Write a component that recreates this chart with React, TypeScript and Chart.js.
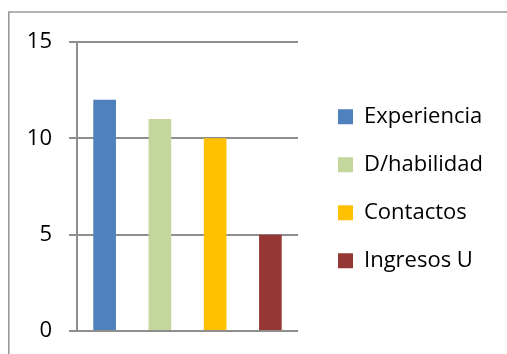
import React, { useEffect, useRef } from "react";
import { Chart, registerables } from "chart.js";

Chart.register(...registerables);

// Chart data
const categories = [""];
const seriesNames = ["Experiencia", "D/habilidad", "Contactos", "Ingresos U"];
const seriesValues = [12, 11, 10, 5];
const seriesColors = ["#4F81BD", "#C3D69B", "#FFC000", "#953735"];
const yTicks = [0, 5, 10, 15];

const WIDTH = 507;
const HEIGHT = 354;
const FONT = "'Open Sans', 'DejaVu Sans', sans-serif";
const LINE = "#8e8e8e";

// Outer frame of the chart object and placement of the legend block
const framePlugin = {
  id: "frame",
  beforeDraw(chart: any) {
    const { ctx, width, height } = chart;
    ctx.save();
    ctx.fillStyle = "#ffffff";
    ctx.fillRect(0, 0, width, height);
    ctx.strokeStyle = "#9a9a9a";
    ctx.lineWidth = 1.6;
    ctx.beginPath();
    ctx.moveTo(8.8, height);
    ctx.lineTo(8.8, 12);
    ctx.lineTo(width, 12);
    ctx.stroke();
    ctx.restore();
  },
  afterLayout(chart: any) {
    const lg = chart.legend;
    if (!lg) return;
    lg.left = 312;
    lg.right = chart.width;
    lg.width = lg.right - lg.left;
    lg.top = 73.7;
    lg.bottom = lg.top + 230;
    lg.height = 230;
  },
};

export default function App() {
  const canvasRef = useRef<HTMLCanvasElement | null>(null);

  useEffect(() => {
    const canvas = canvasRef.current;
    if (!canvas) return;
    const chart = new Chart(canvas, {
      type: "bar",
      data: {
        labels: categories,
        datasets: seriesNames.map((name, i) => ({
          label: name,
          data: [seriesValues[i]],
          backgroundColor: seriesColors[i],
          borderWidth: 0,
          categoryPercentage: 1,
          barPercentage: 0.41,
        })),
      },
      options: {
        responsive: false,
        animation: false,
        devicePixelRatio: 1,
        layout: { padding: { left: 0, top: 42, right: 59, bottom: 23 } },
        plugins: {
          tooltip: { enabled: false },
          legend: {
            position: "right",
            maxWidth: 150,
            labels: {
              boxWidth: 15,
              boxHeight: 15,
              padding: 26,
              color: "#000000",
              font: { family: FONT, size: 22 },
            },
          },
        },
        scales: {
          x: { display: false },
          y: {
            min: 0,
            max: 15,
            afterFit: (scale: any) => {
              scale.width = 77;
              scale.paddingTop = 0;
              scale.paddingBottom = 0;
            },
            afterBuildTicks: (scale: any) => {
              scale.ticks = yTicks.map((v) => ({ value: v }));
            },
            ticks: {
              color: "#000000",
              padding: 17,
              font: { family: FONT, size: 22 },
            },
            grid: {
              color: LINE,
              lineWidth: 2,
              tickLength: 8,
              drawTicks: true,
            },
            border: { display: true, color: LINE, width: 2 },
          },
        },
      },
      plugins: [framePlugin],
    });
    return () => chart.destroy();
  }, []);

  return (
    <div style={{ position: "fixed", left: 0, top: 0, width: WIDTH, height: HEIGHT }}>
      <canvas ref={canvasRef} width={WIDTH} height={HEIGHT} style={{ display: "block" }} />
    </div>
  );
}
